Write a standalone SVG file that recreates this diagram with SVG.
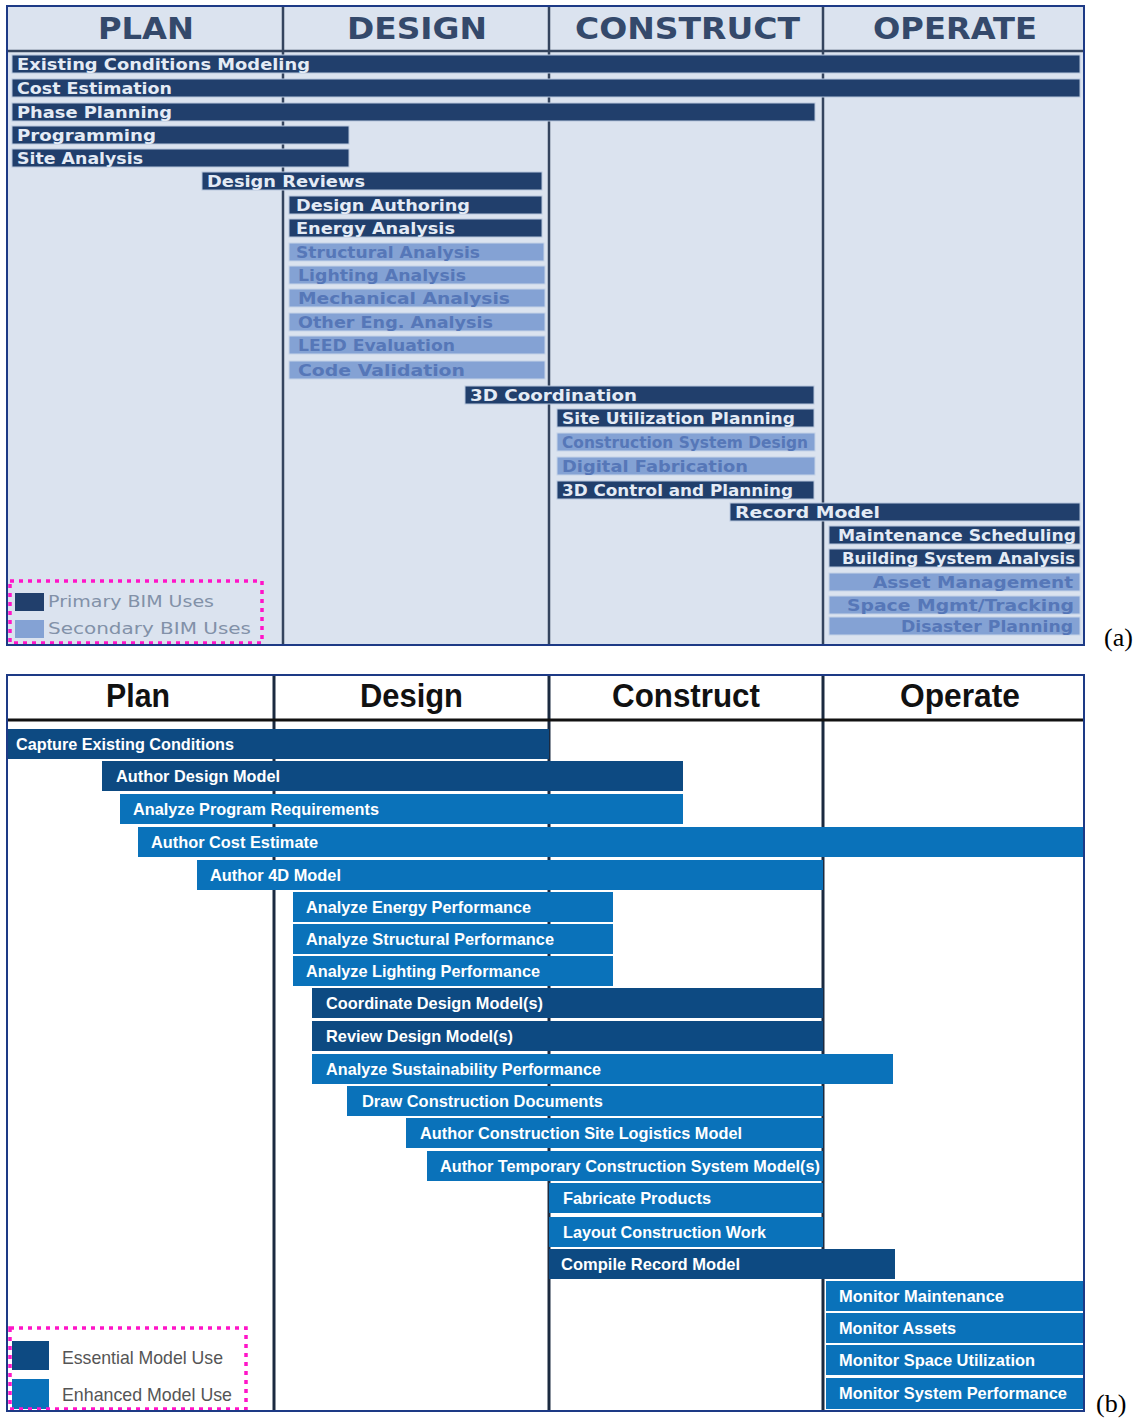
<svg xmlns="http://www.w3.org/2000/svg" width="1143" height="1418" viewBox="0 0 1143 1418">
  <style>
    .bgA { fill: #dbe3ef; }
    .frame { fill: none; stroke: #1d3a86; stroke-width: 2; }
    .colA { stroke: #34445e; stroke-width: 2.5; }
    .colB { stroke: #1b2a40; stroke-width: 3; }
    .hdrA { font-family: "DejaVu Sans", "Liberation Sans", sans-serif; font-weight: bold; font-size: 30px; fill: #34496b; }
    .hdrB { font-family: "Liberation Sans", Arial, sans-serif; font-weight: bold; font-size: 33px; fill: #111111; }
    .pA { fill: #213f6c; stroke: #b9c8dd; stroke-width: 1; }
    .sA { fill: #84a2d4; stroke: #c6d4e8; stroke-width: 1; }
    .tpA { font-family: "DejaVu Sans", sans-serif; font-weight: bold; font-size: 15px; fill: #e4ebf5; }
    .tsA { font-family: "DejaVu Sans", sans-serif; font-weight: bold; font-size: 15px; fill: #5677b8; }
    .eB { fill: #0d4a82; }
    .nB { fill: #0a72ba; }
    .tB { font-family: "Liberation Sans", Arial, sans-serif; font-weight: bold; font-size: 17px; fill: #ffffff; }
    .leg { fill: none; stroke: #ff14c8; stroke-width: 3.5; stroke-dasharray: 4 5; }
    .legA { font-family: "DejaVu Sans", sans-serif; font-size: 15px; fill: #8291a8; }
    .legB { font-family: "Liberation Sans", Arial, sans-serif; font-size: 19px; fill: #555555; }
    .tag { font-family: "Liberation Serif", "Times New Roman", serif; font-size: 26px; fill: #000000; }
  </style>

  <rect width="1143" height="1418" fill="#ffffff"/>

  <!-- ============ Panel (a): BIM uses by phase ============ -->
  <g id="panel-a-grid">
    <rect class="bgA" x="7" y="6" width="1077" height="639"/>
    <line class="colA" x1="7" y1="51" x2="1084" y2="51"/>
    <line class="colA" x1="283" y1="6" x2="283" y2="645"/>
    <line class="colA" x1="549" y1="6" x2="549" y2="645"/>
    <line class="colA" x1="823" y1="6" x2="823" y2="645"/>
    <text class="hdrA" x="98" y="39" textLength="96" lengthAdjust="spacingAndGlyphs">PLAN</text>
    <text class="hdrA" x="347" y="39" textLength="140" lengthAdjust="spacingAndGlyphs">DESIGN</text>
    <text class="hdrA" x="575" y="39" textLength="225" lengthAdjust="spacingAndGlyphs">CONSTRUCT</text>
    <text class="hdrA" x="873" y="39" textLength="164" lengthAdjust="spacingAndGlyphs">OPERATE</text>
  </g>

  <g id="a-existing-conditions"><rect class="pA" x="12" y="55" width="1068" height="18"/><text class="tpA" x="17" y="69.5" textLength="293" lengthAdjust="spacingAndGlyphs">Existing Conditions Modeling</text></g>
  <g id="a-cost-estimation"><rect class="pA" x="12" y="79" width="1068" height="18"/><text class="tpA" x="17" y="93.5" textLength="155" lengthAdjust="spacingAndGlyphs">Cost Estimation</text></g>
  <g id="a-phase-planning"><rect class="pA" x="12" y="103" width="803" height="18"/><text class="tpA" x="17" y="117.5" textLength="155" lengthAdjust="spacingAndGlyphs">Phase Planning</text></g>
  <g id="a-programming"><rect class="pA" x="12" y="126" width="337" height="18"/><text class="tpA" x="17" y="140.5" textLength="139" lengthAdjust="spacingAndGlyphs">Programming</text></g>
  <g id="a-site-analysis"><rect class="pA" x="12" y="149" width="337" height="18"/><text class="tpA" x="17" y="163.5" textLength="126" lengthAdjust="spacingAndGlyphs">Site Analysis</text></g>
  <g id="a-design-reviews"><rect class="pA" x="202" y="172" width="340" height="18"/><text class="tpA" x="207" y="186.5" textLength="158" lengthAdjust="spacingAndGlyphs">Design Reviews</text></g>
  <g id="a-design-authoring"><rect class="pA" x="289" y="196" width="253" height="18"/><text class="tpA" x="296" y="210.5" textLength="174" lengthAdjust="spacingAndGlyphs">Design Authoring</text></g>
  <g id="a-energy-analysis"><rect class="pA" x="289" y="219" width="253" height="18"/><text class="tpA" x="296" y="233.5" textLength="159" lengthAdjust="spacingAndGlyphs">Energy Analysis</text></g>
  <g id="a-structural-analysis"><rect class="sA" x="289" y="243" width="255" height="18"/><text class="tsA" x="296" y="257.5" textLength="184" lengthAdjust="spacingAndGlyphs">Structural Analysis</text></g>
  <g id="a-lighting-analysis"><rect class="sA" x="289" y="266" width="256" height="18"/><text class="tsA" x="298" y="280.5" textLength="168" lengthAdjust="spacingAndGlyphs">Lighting Analysis</text></g>
  <g id="a-mechanical-analysis"><rect class="sA" x="289" y="289" width="256" height="18"/><text class="tsA" x="298" y="303.5" textLength="212" lengthAdjust="spacingAndGlyphs">Mechanical Analysis</text></g>
  <g id="a-other-eng-analysis"><rect class="sA" x="289" y="313" width="256" height="18"/><text class="tsA" x="298" y="327.5" textLength="195" lengthAdjust="spacingAndGlyphs">Other Eng. Analysis</text></g>
  <g id="a-leed-evaluation"><rect class="sA" x="289" y="336" width="256" height="18"/><text class="tsA" x="298" y="350.5" textLength="157" lengthAdjust="spacingAndGlyphs">LEED Evaluation</text></g>
  <g id="a-code-validation"><rect class="sA" x="289" y="361" width="256" height="18"/><text class="tsA" x="298" y="375.5" textLength="167" lengthAdjust="spacingAndGlyphs">Code Validation</text></g>
  <g id="a-3d-coordination"><rect class="pA" x="465" y="386" width="349" height="18"/><text class="tpA" x="470" y="400.5" textLength="167" lengthAdjust="spacingAndGlyphs">3D Coordination</text></g>
  <g id="a-site-utilization"><rect class="pA" x="557" y="409" width="257" height="18"/><text class="tpA" x="562" y="423.5" textLength="233" lengthAdjust="spacingAndGlyphs">Site Utilization Planning</text></g>
  <g id="a-construction-system-design"><rect class="sA" x="557" y="433" width="258" height="18"/><text class="tsA" x="562" y="447.5" textLength="246" lengthAdjust="spacingAndGlyphs">Construction System Design</text></g>
  <g id="a-digital-fabrication"><rect class="sA" x="557" y="457" width="258" height="18"/><text class="tsA" x="562" y="471.5" textLength="186" lengthAdjust="spacingAndGlyphs">Digital Fabrication</text></g>
  <g id="a-3d-control"><rect class="pA" x="557" y="481" width="257" height="18"/><text class="tpA" x="562" y="495.5" textLength="231" lengthAdjust="spacingAndGlyphs">3D Control and Planning</text></g>
  <g id="a-record-model"><rect class="pA" x="730" y="503" width="350" height="18"/><text class="tpA" x="735" y="517.5" textLength="145" lengthAdjust="spacingAndGlyphs">Record Model</text></g>
  <g id="a-maintenance-scheduling"><rect class="pA" x="829" y="526" width="251" height="18"/><text class="tpA" x="838" y="540.5" textLength="238" lengthAdjust="spacingAndGlyphs">Maintenance Scheduling</text></g>
  <g id="a-building-system-analysis"><rect class="pA" x="829" y="549" width="251" height="18"/><text class="tpA" x="842" y="563.5" textLength="233" lengthAdjust="spacingAndGlyphs">Building System Analysis</text></g>
  <g id="a-asset-management"><rect class="sA" x="829" y="573" width="251" height="18"/><text class="tsA" x="873" y="587.5" textLength="200" lengthAdjust="spacingAndGlyphs">Asset Management</text></g>
  <g id="a-space-mgmt"><rect class="sA" x="829" y="596" width="251" height="18"/><text class="tsA" x="847" y="610.5" textLength="227" lengthAdjust="spacingAndGlyphs">Space Mgmt/Tracking</text></g>
  <g id="a-disaster-planning"><rect class="sA" x="829" y="617" width="251" height="18"/><text class="tsA" x="901" y="631.5" textLength="172" lengthAdjust="spacingAndGlyphs">Disaster Planning</text></g>

  <g id="a-legend">
    <rect class="leg" x="10" y="581" width="252" height="62"/>
    <rect x="15" y="593" width="29" height="18" fill="#213f6c"/>
    <text class="legA" x="48" y="607" textLength="166" lengthAdjust="spacingAndGlyphs">Primary BIM Uses</text>
    <rect x="15" y="620" width="29" height="18" fill="#84a2d4"/>
    <text class="legA" x="48" y="634" textLength="203" lengthAdjust="spacingAndGlyphs">Secondary BIM Uses</text>
  </g>
  <rect class="frame" x="7" y="6" width="1077" height="639"/>
  <text class="tag" x="1104" y="646">(a)</text>

  <!-- ============ Panel (b): model uses by phase ============ -->
  <g id="panel-b-grid">
    <line class="colB" x1="274" y1="675" x2="274" y2="1411"/>
    <line class="colB" x1="549" y1="675" x2="549" y2="1411"/>
    <line class="colB" x1="823" y1="675" x2="823" y2="1411"/>
    <line x1="7" y1="720" x2="1084" y2="720" stroke="#111111" stroke-width="3"/>
    <text class="hdrB" x="106" y="707" textLength="64" lengthAdjust="spacingAndGlyphs">Plan</text>
    <text class="hdrB" x="360" y="707" textLength="103" lengthAdjust="spacingAndGlyphs">Design</text>
    <text class="hdrB" x="612" y="707" textLength="148" lengthAdjust="spacingAndGlyphs">Construct</text>
    <text class="hdrB" x="900" y="707" textLength="120" lengthAdjust="spacingAndGlyphs">Operate</text>
  </g>

  <g id="b-capture-existing"><rect class="eB" x="7" y="729" width="542" height="30"/><text class="tB" x="16" y="750" textLength="218" lengthAdjust="spacingAndGlyphs">Capture Existing Conditions</text></g>
  <g id="b-author-design-model"><rect class="eB" x="102" y="761" width="581" height="30"/><text class="tB" x="116" y="782" textLength="164" lengthAdjust="spacingAndGlyphs">Author Design Model</text></g>
  <g id="b-analyze-program"><rect class="nB" x="120" y="794" width="563" height="30"/><text class="tB" x="133" y="815" textLength="246" lengthAdjust="spacingAndGlyphs">Analyze Program Requirements</text></g>
  <g id="b-author-cost"><rect class="nB" x="138" y="827" width="946" height="30"/><text class="tB" x="151" y="848" textLength="167" lengthAdjust="spacingAndGlyphs">Author Cost Estimate</text></g>
  <g id="b-author-4d"><rect class="nB" x="197" y="860" width="626" height="30"/><text class="tB" x="210" y="881" textLength="131" lengthAdjust="spacingAndGlyphs">Author 4D Model</text></g>
  <g id="b-energy"><rect class="nB" x="293" y="892" width="320" height="30"/><text class="tB" x="306" y="913" textLength="225" lengthAdjust="spacingAndGlyphs">Analyze Energy Performance</text></g>
  <g id="b-structural"><rect class="nB" x="293" y="924" width="320" height="30"/><text class="tB" x="306" y="945" textLength="248" lengthAdjust="spacingAndGlyphs">Analyze Structural Performance</text></g>
  <g id="b-lighting"><rect class="nB" x="293" y="956" width="320" height="30"/><text class="tB" x="306" y="977" textLength="234" lengthAdjust="spacingAndGlyphs">Analyze Lighting Performance</text></g>
  <g id="b-coordinate"><rect class="eB" x="312" y="988" width="511" height="30"/><text class="tB" x="326" y="1009" textLength="217" lengthAdjust="spacingAndGlyphs">Coordinate Design Model(s)</text></g>
  <g id="b-review"><rect class="eB" x="312" y="1021" width="511" height="30"/><text class="tB" x="326" y="1042" textLength="187" lengthAdjust="spacingAndGlyphs">Review Design Model(s)</text></g>
  <g id="b-sustainability"><rect class="nB" x="312" y="1054" width="581" height="30"/><text class="tB" x="326" y="1075" textLength="275" lengthAdjust="spacingAndGlyphs">Analyze Sustainability Performance</text></g>
  <g id="b-draw-cd"><rect class="nB" x="347" y="1086" width="476" height="30"/><text class="tB" x="362" y="1107" textLength="241" lengthAdjust="spacingAndGlyphs">Draw Construction Documents</text></g>
  <g id="b-site-logistics"><rect class="nB" x="406" y="1118" width="417" height="30"/><text class="tB" x="420" y="1139" textLength="322" lengthAdjust="spacingAndGlyphs">Author Construction Site Logistics Model</text></g>
  <g id="b-temporary"><rect class="nB" x="427" y="1151" width="396" height="30"/><text class="tB" x="440" y="1172" textLength="380" lengthAdjust="spacingAndGlyphs">Author Temporary Construction System Model(s)</text></g>
  <g id="b-fabricate"><rect class="nB" x="549" y="1183" width="274" height="30"/><text class="tB" x="563" y="1204" textLength="148" lengthAdjust="spacingAndGlyphs">Fabricate Products</text></g>
  <g id="b-layout"><rect class="nB" x="549" y="1217" width="274" height="30"/><text class="tB" x="563" y="1238" textLength="203" lengthAdjust="spacingAndGlyphs">Layout Construction Work</text></g>
  <g id="b-record"><rect class="eB" x="549" y="1249" width="346" height="30"/><text class="tB" x="561" y="1270" textLength="179" lengthAdjust="spacingAndGlyphs">Compile Record Model</text></g>
  <g id="b-maintenance"><rect class="nB" x="826" y="1281" width="258" height="30"/><text class="tB" x="839" y="1302" textLength="165" lengthAdjust="spacingAndGlyphs">Monitor Maintenance</text></g>
  <g id="b-assets"><rect class="nB" x="826" y="1313" width="258" height="30"/><text class="tB" x="839" y="1334" textLength="117" lengthAdjust="spacingAndGlyphs">Monitor Assets</text></g>
  <g id="b-space"><rect class="nB" x="826" y="1345" width="258" height="30"/><text class="tB" x="839" y="1366" textLength="196" lengthAdjust="spacingAndGlyphs">Monitor Space Utilization</text></g>
  <g id="b-system"><rect class="nB" x="826" y="1378" width="258" height="31"/><text class="tB" x="839" y="1399" textLength="228" lengthAdjust="spacingAndGlyphs">Monitor System Performance</text></g>

  <g id="b-legend">
    <rect x="12" y="1341" width="37" height="29" fill="#0d4a82"/>
    <text class="legB" x="62" y="1364" textLength="161" lengthAdjust="spacingAndGlyphs">Essential Model Use</text>
    <rect x="12" y="1379" width="37" height="30" fill="#0a72ba"/>
    <text class="legB" x="62" y="1401" textLength="170" lengthAdjust="spacingAndGlyphs">Enhanced Model Use</text>
    <rect class="leg" x="10" y="1328" width="236" height="81"/>
  </g>
  <rect class="frame" x="7" y="675" width="1077" height="736"/>
  <text class="tag" x="1096" y="1412">(b)</text>
</svg>
